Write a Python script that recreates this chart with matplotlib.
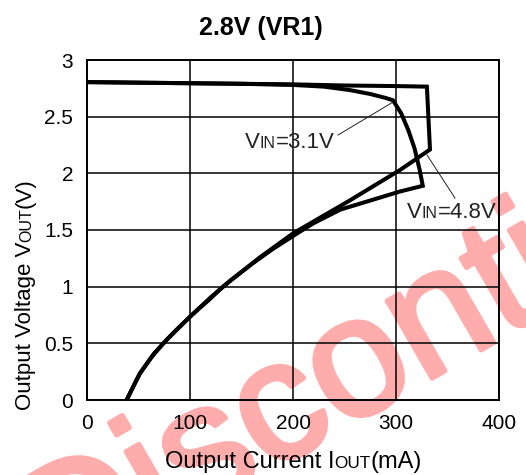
import matplotlib
matplotlib.use("Agg")
import matplotlib.pyplot as plt
import matplotlib.patheffects as pe

plt.rcParams['font.family'] = ['Liberation Sans', 'DejaVu Sans']

W, H = 526, 475

# output current (mA) / output voltage (V)
iout_31 = [0, 50, 100, 150, 200, 230, 255, 275, 290, 297, 305, 312, 318, 323, 326,
           304, 275, 246, 220, 204, 180, 160, 140, 120, 100, 80, 65, 51, 38.5]
vout_31 = [2.805, 2.80, 2.795, 2.79, 2.78, 2.765, 2.735, 2.70, 2.665, 2.645, 2.53, 2.38, 2.22, 2.03, 1.89,
           1.84, 1.76, 1.68, 1.56, 1.47, 1.33, 1.20, 1.06, 0.905, 0.735, 0.555, 0.41, 0.23, 0.0]

iout_48 = [0, 100, 200, 250, 300, 330, 333,
           304, 255, 200, 168, 150, 132, 118, 103, 88, 74, 62, 51.5, 45, 38.5]
vout_48 = [2.805, 2.795, 2.785, 2.775, 2.77, 2.765, 2.21,
           2.03, 1.76, 1.47, 1.26, 1.13, 1.0, 0.88, 0.76, 0.63, 0.5, 0.37, 0.235, 0.12, 0.0]

xticks = [0, 100, 200, 300, 400]
yticks = [0, 0.5, 1, 1.5, 2, 2.5, 3]
ytick_labels = ['0', '0.5', '1', '1.5', '2', '2.5', '3']

fig = plt.figure(figsize=(W / 100, H / 100), dpi=100)
ax = fig.add_axes([87 / W, 1 - 400 / H, 412 / W, 340 / H])
ax.patch.set_alpha(0)

# watermark behind everything (narrow face, the original is squeezed)
wm_color = '#ffacac'
fig.text(55 / W, -121 / H, 'Discontinued', fontsize=122, color=wm_color,
         family=['Liberation Sans Narrow', 'Liberation Sans'],
         rotation=30, rotation_mode='anchor', ha='left', va='baseline', zorder=-1,
         path_effects=[pe.withStroke(linewidth=3.5, foreground=wm_color)])

ax.plot(iout_31, vout_31, color='black', lw=2.9, solid_joinstyle='miter', zorder=3)
ax.plot(iout_48, vout_48, color='black', lw=2.9, solid_joinstyle='miter', zorder=3)

ax.set_xlim(0, 400)
ax.set_ylim(0, 3)
ax.set_xticks(xticks)
ax.set_yticks(yticks)
ax.set_yticklabels(ytick_labels)
ax.tick_params(length=0, labelsize=15, pad=10)
ax.grid(True, color='black', lw=1.1)
for s in ax.spines.values():
    s.set_linewidth(1.4)


def chain_h(x, y, parts, coords):
    # pieces of text of different sizes sharing one baseline
    s, fs = parts[0]
    t = ax.annotate(s, xy=(x, y), xycoords=coords, fontsize=fs, ha='left',
                    va='baseline', annotation_clip=False, color='#222222')
    for s, fs in parts[1:]:
        t = ax.annotate(s, xy=(1, y), xycoords=(t, coords), fontsize=fs, ha='left',
                        va='baseline', annotation_clip=False, color='#222222')
    return t


def chain_v(x, y, parts):
    s, fs = parts[0]
    t = ax.annotate(s, xy=(x, y), xycoords='figure fraction', fontsize=fs, ha='left',
                    va='baseline', rotation=90, rotation_mode='anchor', annotation_clip=False)
    for s, fs in parts[1:]:
        t = ax.annotate(s, xy=(x, 1), xycoords=('figure fraction', t), fontsize=fs, ha='left',
                        va='baseline', rotation=90, rotation_mode='anchor', annotation_clip=False)


fig.text(261 / W, 1 - 35 / H, '2.8V (VR1)', fontsize=18, fontweight='bold',
         ha='center', va='baseline')

t = ax.annotate('Output Current I', xy=(165 / W, 1 - 468 / H), xycoords='figure fraction',
                fontsize=17, ha='left', va='baseline', annotation_clip=False)
for s, fs in [('OUT', 12.3), ('(mA)', 17)]:
    t = ax.annotate(s, xy=(1, 1 - 468 / H), xycoords=(t, 'figure fraction'), fontsize=fs,
                    ha='left', va='baseline', annotation_clip=False)

chain_v(31 / W, 1 - 410 / H, [('Output Voltage V', 16), ('OUT', 11.5), ('(V)', 16)])

chain_h(153.4, 2.224, [('V', 16), ('IN', 11.5), ('=3.1V', 16)], 'data')
chain_h(310.7, 1.606, [('V', 16), ('IN', 11.5), ('=4.8V', 16)], 'data')
ax.plot([243.7, 297.1], [2.338, 2.629], color='#222222', lw=0.7, zorder=4)
ax.plot([330.1, 357.3], [2.162, 1.782], color='#222222', lw=0.7, zorder=4)

fig.savefig('out.png', dpi=100)
